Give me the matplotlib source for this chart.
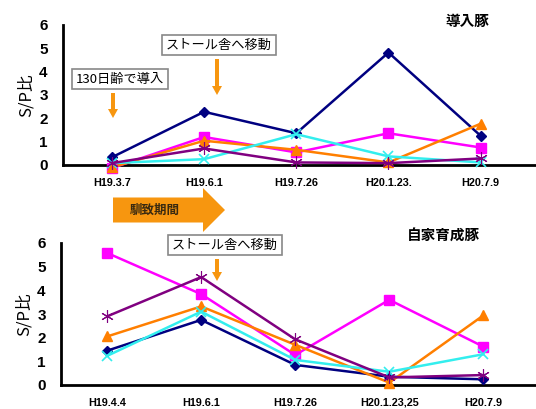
import matplotlib
matplotlib.use("Agg")
import matplotlib.pyplot as plt
from matplotlib.patches import FancyArrow
from matplotlib.transforms import Affine2D

plt.rcParams['font.family'] = ['Liberation Sans', 'Noto Sans CJK JP', 'DejaVu Sans']
JP = ['Noto Sans CJK JP', 'DejaVu Sans']

# ---- data ----
dates_top = ["H19.3.7", "H19.6.1", "H19.7.26", "H20.1.23.", "H20.7.9"]
dates_bottom = ["H19.4.4", "H19.6.1", "H19.7.26", "H20.1.23,25", "H20.7.9"]

# S/P ratio, introduced pigs (導入豚)
top_navy = [0.33, 2.28, 1.36, 4.82, 1.25]
top_magenta = [-0.13, 1.2, 0.54, 1.36, 0.75]
top_orange = [-0.1, 1.04, 0.65, 0.11, 1.77]
top_cyan = [0.08, 0.25, 1.32, 0.37, 0.11]
top_purple = [0.08, 0.71, 0.11, 0.08, 0.28]

# S/P ratio, home-raised pigs (自家育成豚)
bot_navy = [1.45, 2.75, 0.85, 0.35, 0.24]
bot_magenta = [5.58, 3.84, 1.27, 3.6, 1.62]
bot_orange = [2.05, 3.32, 1.7, 0.1, 2.94]
bot_cyan = [1.23, 3.1, 1.06, 0.56, 1.3]
bot_purple = [2.9, 4.56, 1.93, 0.32, 0.42]

W, H = 536, 409
fig = plt.figure(figsize=(W / 100, H / 100), dpi=100)
fig.patch.set_facecolor('white')

# pixel coordinates, origin at top-left
PX = Affine2D().scale(0.01, -0.01).translate(0, H / 100) + fig.dpi_scale_trans


def frac(x0, y0, x1, y1):
    return [x0 / W, 1 - y1 / H, (x1 - x0) / W, (y1 - y0) / H]


styles = [
    dict(color='#000080', marker='D', ms=5),
    dict(color='#FF00FF', marker='s', ms=7),
    dict(color='#FF7F00', marker='^', ms=7),
    dict(color='#33EEEE', marker='x', ms=7, mew=1.2),
    dict(color='#800080', marker=(6, 2, 0), ms=9, mew=0.8),
]


def panel(rect, labels, series, xlim):
    ax = fig.add_axes(rect)
    x = list(range(len(labels)))
    for s, st in zip(series, styles):
        ax.plot(x, s, lw=1.8, clip_on=False, zorder=3, **st)
    ax.set_ylim(0, 6)
    ax.set_xlim(*xlim)
    ax.set_yticks(range(0, 7))
    ax.set_xticks(x)
    ax.set_xticklabels(labels, fontsize=7.8, fontweight='bold')
    ax.tick_params(axis='y', length=0, pad=11, labelsize=11)
    ax.tick_params(axis='x', length=0, pad=9)
    for t in ax.get_yticklabels():
        t.set_fontweight('bold')
    for sp in ['top', 'right']:
        ax.spines[sp].set_visible(False)
    for sp in ['left', 'bottom']:
        ax.spines[sp].set_linewidth(2)
        ax.spines[sp].set_zorder(2)
    ax.set_ylabel('S/P比', family=JP, fontsize=12, labelpad=3)
    ax.patch.set_alpha(0)
    return ax


ax1 = panel(frac(63, 25, 536, 165), dates_top,
            [top_navy, top_magenta, top_orange, top_cyan, top_purple], (-0.53, 4.6))
ax2 = panel(frac(61, 243, 536, 385), dates_bottom,
            [bot_navy, bot_magenta, bot_orange, bot_cyan, bot_purple], (-0.49, 4.56))

# panel titles
fig.text(467 / W, 1 - 21 / H, '導入豚', family=JP, fontsize=10.5, fontweight='bold',
         ha='center', va='center')
fig.text(443 / W, 1 - 236 / H, '自家育成豚', family=JP, fontsize=10.5, fontweight='bold',
         ha='center', va='center')

box = dict(boxstyle='square,pad=0.3', fc='white', ec='#888888', lw=1.2)
fig.text(219 / W, 1 - 45 / H, 'ストール舎へ移動', family=JP, fontsize=9.5,
         ha='center', va='center', bbox=box)
fig.text(120 / W, 1 - 79 / H, '130日齢で導入', family=JP, fontsize=9.5,
         ha='center', va='center', bbox=box)
fig.text(225 / W, 1 - 245 / H, 'ストール舎へ移動', family=JP, fontsize=9.5,
         ha='center', va='center', bbox=box)

orange = '#F7960F'
for (x, y0, y1) in [(217, 59, 95), (113, 93, 118), (217, 259, 281)]:
    fig.patches.append(FancyArrow(x, y0, 0, y1 - y0, width=4, head_width=10,
                                  head_length=9, length_includes_head=True,
                                  fc=orange, ec='none', transform=PX))

# acclimation period arrow
fig.patches.append(FancyArrow(113, 210, 112, 0, width=25, head_width=44,
                              head_length=22, length_includes_head=True,
                              fc=orange, ec='none', transform=PX))
fig.text(155 / W, 1 - 210 / H, '馴致期間', family=JP, fontsize=9, fontweight='bold',
         color='#3a2a10', ha='center', va='center')

fig.savefig('out.png', dpi=100)
